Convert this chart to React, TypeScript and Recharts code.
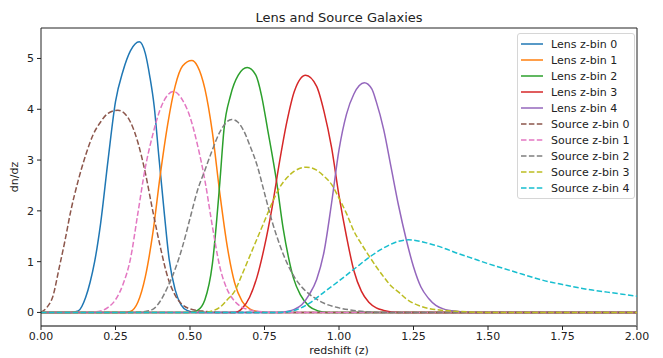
import React from "react";
import { Line, LineChart, ReferenceLine, XAxis, YAxis } from "recharts";

// [redshift, dn/dz] pairs
const lensBin0: [number, number][] = [
  [0, 0], [0.1, 0], [0.125, 0.03], [0.15, 0.3], [0.165, 0.6], [0.18, 1.0], [0.2, 1.75], [0.225, 3.0],
  [0.25, 4.15], [0.275, 4.75], [0.3, 5.15], [0.33, 5.33], [0.35, 5.1], [0.365, 4.65], [0.38, 4.05],
  [0.395, 3.1], [0.413, 2.0], [0.43, 1.05], [0.45, 0.45], [0.47, 0.15], [0.49, 0.04], [0.52, 0], [2, 0],
];
const lensBin1: [number, number][] = [
  [0, 0], [0.28, 0], [0.3, 0.02], [0.325, 0.2], [0.35, 0.7], [0.375, 1.55], [0.4, 2.7], [0.425, 3.7],
  [0.45, 4.45], [0.475, 4.85], [0.506, 4.96], [0.525, 4.85], [0.55, 4.4], [0.575, 3.55], [0.6, 2.35],
  [0.625, 1.3], [0.65, 0.58], [0.675, 0.22], [0.7, 0.07], [0.725, 0.02], [0.76, 0], [2, 0],
];
const lensBin2: [number, number][] = [
  [0, 0], [0.5, 0], [0.525, 0.04], [0.55, 0.25], [0.575, 0.95], [0.6, 2.55], [0.614, 3.6], [0.636, 4.27],
  [0.662, 4.67], [0.692, 4.82], [0.721, 4.67], [0.74, 4.27], [0.76, 3.62], [0.791, 2.56], [0.813, 1.64],
  [0.83, 1.1], [0.847, 0.68], [0.87, 0.35], [0.9, 0.12], [0.93, 0.03], [0.96, 0], [2, 0],
];
const lensBin3: [number, number][] = [
  [0, 0], [0.65, 0], [0.675, 0.08], [0.7, 0.3], [0.725, 0.7], [0.75, 1.3], [0.775, 2.05], [0.8, 2.95],
  [0.825, 3.75], [0.85, 4.35], [0.888, 4.67], [0.925, 4.45], [0.95, 3.95], [0.975, 3.25], [1.0, 2.3],
  [1.025, 1.5], [1.05, 0.82], [1.075, 0.42], [1.1, 0.2], [1.125, 0.09], [1.15, 0.04], [1.2, 0], [2, 0],
];
const lensBin4: [number, number][] = [
  [0, 0], [0.8, 0], [0.825, 0.02], [0.85, 0.06], [0.875, 0.15], [0.9, 0.35], [0.925, 0.65], [0.95, 1.2],
  [0.975, 2.15], [1.0, 3.2], [1.025, 3.9], [1.05, 4.3], [1.085, 4.52], [1.11, 4.4], [1.125, 4.15],
  [1.15, 3.6], [1.175, 2.85], [1.2, 2.1], [1.225, 1.45], [1.25, 0.9], [1.275, 0.5], [1.3, 0.28],
  [1.325, 0.14], [1.35, 0.07], [1.4, 0.02], [1.45, 0], [2, 0],
];
const sourceBin0: [number, number][] = [
  [0, 0], [0.02, 0.1], [0.04, 0.32], [0.06, 0.85], [0.08, 1.4], [0.1, 2.0], [0.125, 2.6], [0.15, 3.1],
  [0.175, 3.5], [0.2, 3.75], [0.225, 3.92], [0.258, 3.98], [0.28, 3.92], [0.3, 3.75], [0.325, 3.35],
  [0.35, 2.75], [0.375, 2.0], [0.4, 1.3], [0.425, 0.7], [0.45, 0.34], [0.475, 0.15], [0.5, 0.07],
  [0.55, 0.02], [0.6, 0], [2, 0],
];
const sourceBin1: [number, number][] = [
  [0, 0], [0.15, 0], [0.2, 0.03], [0.225, 0.1], [0.25, 0.25], [0.275, 0.55], [0.3, 1.05], [0.325, 1.95],
  [0.35, 2.85], [0.375, 3.5], [0.4, 4.0], [0.425, 4.28], [0.445, 4.35], [0.475, 4.18], [0.5, 3.85],
  [0.525, 3.3], [0.55, 2.6], [0.575, 1.7], [0.6, 0.9], [0.625, 0.45], [0.65, 0.22], [0.675, 0.1],
  [0.7, 0.05], [0.75, 0.01], [0.8, 0], [2, 0],
];
const sourceBin2: [number, number][] = [
  [0, 0], [0.3, 0], [0.35, 0.02], [0.375, 0.06], [0.4, 0.22], [0.425, 0.5], [0.45, 0.85], [0.475, 1.3],
  [0.5, 1.85], [0.525, 2.4], [0.55, 2.8], [0.575, 3.2], [0.6, 3.55], [0.64, 3.8], [0.66, 3.75],
  [0.68, 3.58], [0.7, 3.3], [0.725, 2.9], [0.75, 2.35], [0.775, 1.8], [0.8, 1.35], [0.825, 0.98],
  [0.85, 0.7], [0.875, 0.5], [0.9, 0.36], [0.925, 0.26], [0.95, 0.18], [1.0, 0.09], [1.05, 0.04],
  [1.1, 0.01], [1.15, 0], [2, 0],
];
const sourceBin3: [number, number][] = [
  [0, 0], [0.55, 0], [0.575, 0.03], [0.6, 0.1], [0.625, 0.25], [0.65, 0.42], [0.675, 0.75], [0.7, 1.1],
  [0.725, 1.45], [0.75, 1.8], [0.775, 2.15], [0.8, 2.45], [0.825, 2.65], [0.85, 2.78], [0.891, 2.86],
  [0.925, 2.8], [0.95, 2.68], [0.975, 2.52], [1.0, 2.25], [1.025, 1.95], [1.05, 1.6], [1.075, 1.35],
  [1.1, 1.12], [1.125, 0.9], [1.15, 0.7], [1.175, 0.52], [1.2, 0.4], [1.225, 0.27], [1.25, 0.18],
  [1.275, 0.12], [1.3, 0.08], [1.35, 0.04], [1.4, 0.02], [1.5, 0], [2, 0],
];
const sourceBin4: [number, number][] = [
  [0, 0], [0.8, 0], [0.85, 0.04], [0.9, 0.18], [0.95, 0.4], [1.0, 0.62], [1.05, 0.85], [1.1, 1.08],
  [1.15, 1.27], [1.2, 1.4], [1.233, 1.43], [1.3, 1.36], [1.35, 1.27], [1.4, 1.16], [1.45, 1.06],
  [1.5, 0.96], [1.55, 0.87], [1.6, 0.78], [1.65, 0.69], [1.7, 0.61], [1.75, 0.55], [1.8, 0.49],
  [1.85, 0.44], [1.9, 0.4], [1.95, 0.36], [2, 0.32],
];

const seriesNames = [
  "Lens z-bin 0", "Lens z-bin 1", "Lens z-bin 2", "Lens z-bin 3", "Lens z-bin 4",
  "Source z-bin 0", "Source z-bin 1", "Source z-bin 2", "Source z-bin 3", "Source z-bin 4",
];
const seriesPoints = [
  lensBin0, lensBin1, lensBin2, lensBin3, lensBin4,
  sourceBin0, sourceBin1, sourceBin2, sourceBin3, sourceBin4,
];
const colors = [
  "#1f77b4", "#ff7f0e", "#2ca02c", "#d62728", "#9467bd",
  "#8c564b", "#e377c2", "#7f7f7f", "#bcbd22", "#17becf",
];
const xTicks = [0, 0.25, 0.5, 0.75, 1, 1.25, 1.5, 1.75, 2];
const yTicks = [0, 1, 2, 3, 4, 5];
const xDomain: [number, number] = [0, 2];
const yDomain: [number, number] = [-0.267, 5.6];

const FONT = "'DejaVu Sans', sans-serif";
const DASH = "5.5 2.4";

export default function App() {
  const series = seriesPoints.map((pts, i) => ({
    name: seriesNames[i],
    color: colors[i],
    dashed: i >= 5,
    data: pts.map(([z, n]) => ({ z, n })),
  }));

  return (
    <div style={{ position: "relative", width: 663, height: 358, fontFamily: FONT, color: "#222" }}>
      <style>{"body{margin:0}"}</style>
      <LineChart width={663} height={358} margin={{ top: 28, right: 26, bottom: 0, left: 0 }}>
        <XAxis
          type="number"
          dataKey="z"
          domain={xDomain}
          ticks={xTicks}
          tickFormatter={(v: number) => v.toFixed(2)}
          allowDataOverflow
          height={32}
          tickSize={4}
          tickMargin={2}
          axisLine={{ stroke: "#808080", strokeWidth: 2 }}
          tickLine={{ stroke: "#222" }}
          tick={{ fill: "#222", fontSize: 11, fontFamily: FONT }}
        />
        <YAxis
          type="number"
          domain={yDomain}
          ticks={yTicks}
          allowDataOverflow
          width={41}
          tickSize={4}
          tickMargin={3}
          axisLine={{ stroke: "#222" }}
          tickLine={{ stroke: "#222" }}
          tick={{ fill: "#222", fontSize: 11, fontFamily: FONT }}
        />
        {/* top and right spines */}
        <ReferenceLine y={yDomain[1]} stroke="#222" />
        <ReferenceLine x={xDomain[1]} stroke="#222" />
        {series.map((s) => (
          <Line
            key={s.name}
            data={s.data}
            dataKey="n"
            name={s.name}
            type="monotone"
            stroke={s.color}
            strokeWidth={1.5}
            strokeDasharray={s.dashed ? DASH : undefined}
            dot={false}
            activeDot={false}
            isAnimationActive={false}
          />
        ))}
      </LineChart>

      <div style={{ position: "absolute", left: 41, top: 9, width: 596, textAlign: "center", fontSize: 13, lineHeight: "18px" }}>
        Lens and Source Galaxies
      </div>
      <div style={{ position: "absolute", left: 41, top: 344, width: 596, textAlign: "center", fontSize: 11, lineHeight: "14px" }}>
        redshift (z)
      </div>
      <div
        style={{
          position: "absolute", left: 15, top: 177, fontSize: 11, lineHeight: "14px", whiteSpace: "nowrap",
          transform: "translate(-50%, -50%) rotate(-90deg)",
        }}
      >
        dn/dz
      </div>

      <div
        style={{
          position: "absolute", left: 517, top: 33, width: 113, padding: "2px 0 2px 3px",
          border: "1px solid #d6d6d6", borderRadius: 3, background: "rgba(255,255,255,0.8)", fontSize: 11,
        }}
      >
        {series.map((s) => (
          <div key={s.name} style={{ display: "flex", alignItems: "center", height: 16 }}>
            <svg width={22} height={16} style={{ marginRight: 8, flex: "none" }}>
              <line x1={0} y1={8} x2={22} y2={8} stroke={s.color} strokeWidth={1.5} strokeDasharray={s.dashed ? DASH : undefined} />
            </svg>
            <span style={{ whiteSpace: "nowrap" }}>{s.name}</span>
          </div>
        ))}
      </div>
    </div>
  );
}
